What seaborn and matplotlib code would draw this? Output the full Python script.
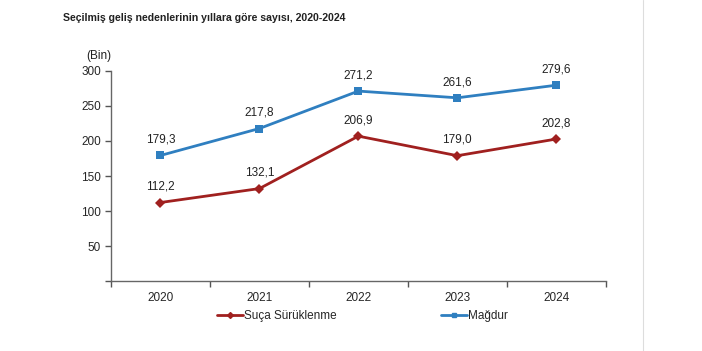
import matplotlib
matplotlib.use('Agg')
import matplotlib.pyplot as plt
from matplotlib.lines import Line2D
import seaborn as sns
import pandas as pd

years = ['2020', '2021', '2022', '2023', '2024']
suca = [112.2, 132.1, 206.9, 179.0, 202.8]
magdur = [179.3, 217.8, 271.2, 261.6, 279.6]
series_names = ['Suça Sürüklenme', 'Mağdur']
colors = ['#A0201F', '#2F7FC0']
markers = ['D', 's']

sns.set_style('white')
plt.rcParams['font.family'] = ['Liberation Sans', 'DejaVu Sans']
plt.rcParams['font.size'] = 8

df = pd.DataFrame({
    'year': years * 2,
    'value': suca + magdur,
    'series': [series_names[0]] * 5 + [series_names[1]] * 5,
})
df['x'] = df.groupby('series').cumcount()

fig = plt.figure(figsize=(7.02, 3.51), dpi=100)
ax = fig.add_axes([0.158, 0.199, 0.705, 0.599])

sns.lineplot(data=df, x='x', y='value', hue='series', style='series',
             palette=dict(zip(series_names, colors)),
             markers=dict(zip(series_names, markers)), dashes=False,
             linewidth=2, markersize=6, markeredgewidth=0, ax=ax, legend=False)
# diamond a bit smaller than square
for line, ms in zip(ax.get_lines(), [5, 6]):
    line.set_markersize(ms)

for vals in [suca, magdur]:
    for i, v in enumerate(vals):
        ax.annotate(f'{v:.1f}'.replace('.', ','), (i, v), xytext=(0, 7),
                    textcoords='offset points', ha='center', va='bottom',
                    fontsize=8.5, color='#222222')

ax.set_xlim(-0.5, 4.5)
ax.set_ylim(0, 300)
ax.set_yticks([0, 50, 100, 150, 200, 250, 300])
ax.set_yticklabels(['', '50', '100', '150', '200', '250', '300'])
ax.set_xticks(range(5))
ax.set_xticklabels(years)
ax.set_xticks([i - 0.5 for i in range(6)], minor=True)
ax.tick_params(axis='x', which='major', bottom=False, length=0, pad=8, labelsize=8.5)
ax.tick_params(axis='x', which='minor', bottom=True, length=4, width=1,
               color='#555555', direction='out')
ax.tick_params(axis='y', left=True, length=4, width=1, color='#555555',
               direction='out', labelsize=8.5, pad=3)
ax.set_xlabel('')
ax.set_ylabel('')
for side in ['top', 'right']:
    ax.spines[side].set_visible(False)
for side in ['left', 'bottom']:
    ax.spines[side].set_color('#666666')
    ax.spines[side].set_linewidth(1)

fig.text(63 / 702, 1 - 18 / 351, 'Seçilmiş geliş nedenlerinin yıllara göre sayısı, 2020-2024',
         fontsize=7.6, fontweight='bold', va='center', ha='left', color='#222222')
fig.text(111 / 702, 1 - 56 / 351, '(Bin)', fontsize=8.5, ha='right', va='center', color='#222222')

handles = [Line2D([0], [0], color=c, marker=m, markersize=3, linewidth=2)
           for c, m in zip(colors, markers)]
fig.legend(handles, series_names, loc='center', bbox_to_anchor=(0.516, 1 - 316 / 351),
           ncol=2, frameon=False, fontsize=8.5, handlelength=2.2, handletextpad=0.1,
           columnspacing=8.8)

fig.add_artist(Line2D([643 / 702, 643 / 702], [0, 1], color='#dddddd', linewidth=0.8))

fig.savefig('out.png', dpi=100)
